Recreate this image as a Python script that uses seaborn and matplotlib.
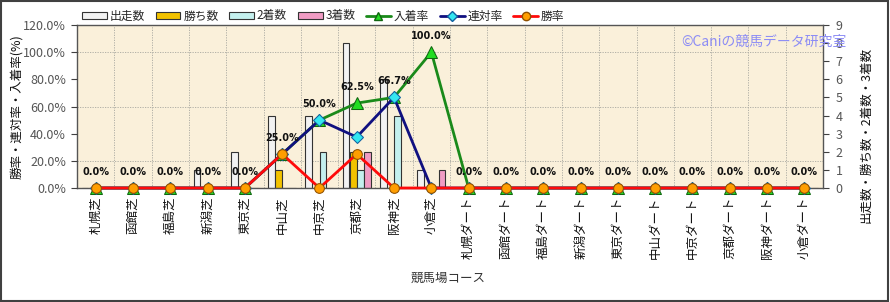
import numpy as np
import pandas as pd
import matplotlib
matplotlib.use("Agg")
import matplotlib.pyplot as plt
from matplotlib.patches import Patch, Rectangle
from matplotlib.lines import Line2D
import seaborn as sns

# ---------------- data ----------------
courses = ["札幌芝", "函館芝", "福島芝", "新潟芝", "東京芝", "中山芝", "中京芝", "京都芝", "阪神芝", "小倉芝",
           "札幌ダート", "函館ダート", "福島ダート", "新潟ダート", "東京ダート", "中山ダート", "中京ダート",
           "京都ダート", "阪神ダート", "小倉ダート"]
starts = [0, 0, 0, 1, 2, 4, 4, 8, 6, 1, 0, 0, 0, 0, 0, 0, 0, 0, 0, 0]
wins   = [0, 0, 0, 0, 0, 1, 0, 2, 0, 0, 0, 0, 0, 0, 0, 0, 0, 0, 0, 0]
second = [0, 0, 0, 0, 0, 0, 2, 1, 4, 0, 0, 0, 0, 0, 0, 0, 0, 0, 0, 0]
third  = [0, 0, 0, 0, 0, 0, 0, 2, 0, 1, 0, 0, 0, 0, 0, 0, 0, 0, 0, 0]
place_rate  = [0, 0, 0, 0, 0, 25.0, 50.0, 62.5, 66.7, 100.0, 0, 0, 0, 0, 0, 0, 0, 0, 0, 0]
rentai_rate = [0, 0, 0, 0, 0, 25.0, 50.0, 37.5, 66.7, 0, 0, 0, 0, 0, 0, 0, 0, 0, 0, 0]
win_rate    = [0, 0, 0, 0, 0, 25.0, 0, 25.0, 0, 0, 0, 0, 0, 0, 0, 0, 0, 0, 0, 0]
bar_names = ["出走数", "勝ち数", "2着数", "3着数"]
line_names = ["入着率", "連対率", "勝率"]
left_ticks = [0, 20, 40, 60, 80, 100, 120]
right_ticks = [0, 1, 2, 3, 4, 5, 6, 7, 8, 9]

# ---------------- style ----------------
sns.set_style("white")
plt.rcParams["font.family"] = ["Noto Sans CJK JP", "DejaVu Sans"]

bar_colors = ["#F2F2F2", "#F2C200", "#C4F0EE", "#F09CC4"]

fig = plt.figure(figsize=(8.9, 3.02), dpi=100)
ax = fig.add_axes([77 / 890, 1 - 188 / 302, (823 - 77) / 890, (188 - 25) / 302])
ax.set_facecolor("#FAF0DA")

df = pd.DataFrame({
    "course": courses * 4,
    "count": starts + wins + second + third,
    "kind": sum([[n] * len(courses) for n in bar_names], []),
})
sns.barplot(data=df, x="course", y="count", hue="kind", order=courses, hue_order=bar_names,
            palette=bar_colors, width=0.76, gap=0.06, edgecolor="#333333", linewidth=0.8,
            ax=ax, legend=False, errorbar=None, saturation=1)

# ---------------- lines (twin axis) ----------------
ax2 = ax.twinx()
pos = list(range(len(courses)))
pl = [v / 100 for v in place_rate]
rr = [v / 100 for v in rentai_rate]
wr = [v / 100 for v in win_rate]
sns.lineplot(x=pos, y=pl, ax=ax2, color="#1A8A1A", linewidth=2, marker="^", markersize=8,
             markerfacecolor="#22DD22", markeredgecolor="#116611", clip_on=False, zorder=3)
sns.lineplot(x=pos, y=rr, ax=ax2, color="#101080", linewidth=2, marker="D", markersize=6,
             markerfacecolor="#33E6F0", markeredgecolor="#1060A0", clip_on=False, zorder=4)
sns.lineplot(x=pos, y=wr, ax=ax2, color="#FF0A0A", linewidth=2, marker="o", markersize=7,
             markerfacecolor="#FF9E00", markeredgecolor="#905000", clip_on=False, zorder=5)
for i, v in enumerate(place_rate):
    ax2.annotate(f"{v:.1f}%", xy=(i, v / 100), xytext=(0, 11.5), textcoords="offset points",
                 ha="center", va="center", fontsize=7, fontweight="bold", color="#111111",
                 family=["DejaVu Sans"], zorder=6, annotation_clip=False)

# ---------------- primary axis (counts, right side) ----------------
ax.set_ylim(0, 9)
ax.set_xlim(-0.5, len(courses) - 0.5)
ax.yaxis.tick_right()
ax.yaxis.set_label_position("right")
ax.set_yticks(right_ticks)
ax.set_yticks(np.arange(1.5, 9, 1.5), minor=True)
ax.set_xticks(np.arange(0.5, len(courses) - 0.5, 1), minor=True)
ax.set_axisbelow(True)
ax.grid(which="minor", axis="both", color="#A8A8A0", linestyle=(0, (1.5, 1.5)), linewidth=0.6)
ax.grid(which="major", visible=False)
ax.tick_params(axis="y", which="major", left=False, right=True, labelleft=False, labelright=True,
               length=4, width=0.8, color="#404040", labelsize=9, labelcolor="#555555", pad=5)
ax.tick_params(which="minor", length=0)
ax.tick_params(axis="x", which="major", length=0, pad=6, labelsize=9, labelcolor="#111111")
ax.set_xticks(range(len(courses)))
ax.set_xticklabels(courses, rotation=90, va="top", ha="center")
ax.set_xlabel("")
ax.set_ylabel("")
for s in ax.spines.values():
    s.set_color("#555555")
    s.set_linewidth(1.0)

# ---------------- secondary axis (rates, left side) ----------------
ax2.set_ylim(0, 1.2)
ax2.set_xlim(-0.5, len(courses) - 0.5)
ax2.yaxis.tick_left()
ax2.set_yticks([t / 100 for t in left_ticks])
ax2.set_yticklabels([f"{t:.1f}%" for t in left_ticks])
ax2.tick_params(axis="y", left=True, right=False, labelleft=True, labelright=False,
                length=4, width=0.8, color="#404040", labelsize=9, labelcolor="#555555", pad=4)
ax2.set_xlabel("")
ax2.set_ylabel("")
for s in ax2.spines.values():
    s.set_visible(False)

# ---------------- texts ----------------
fig.text(17 / 890, 1 - 107 / 302, "勝率・連対率・入着率(%)", rotation=90, ha="center", va="center",
         fontsize=9, color="#111111")
fig.text(866 / 890, 1 - 135 / 302, "出走数・勝ち数・2着数・3着数", rotation=90, ha="center", va="center",
         fontsize=9, color="#111111")
fig.text(448 / 890, 1 - 278 / 302, "競馬場コース", ha="center", va="center", fontsize=9, color="#333333")
fig.text(846 / 890, 1 - 42 / 302, "©Caniの競馬データ研究室", ha="right", va="center", fontsize=10,
         color="#8C8CF5", zorder=10)

# ---------------- legend ----------------
handles = [Patch(facecolor=c, edgecolor="#333333", linewidth=0.8) for c in bar_colors]
handles += [
    Line2D([], [], color="#1A8A1A", linewidth=2, marker="^", markersize=6,
           markerfacecolor="#22DD22", markeredgecolor="#116611"),
    Line2D([], [], color="#101080", linewidth=2, marker="D", markersize=5,
           markerfacecolor="#33E6F0", markeredgecolor="#1060A0"),
    Line2D([], [], color="#FF0A0A", linewidth=2, marker="o", markersize=6,
           markerfacecolor="#FF9E00", markeredgecolor="#905000"),
]
fig.legend(handles, bar_names + line_names, loc="center left", bbox_to_anchor=(82 / 890, 1 - 16 / 302),
           ncol=7, frameon=False, fontsize=8.5, handlelength=2.1, handleheight=0.55, handletextpad=0.25,
           columnspacing=0.9, borderaxespad=0, borderpad=0)

fig.patches.append(Rectangle((0.001, 0.002), 0.997, 0.995, transform=fig.transFigure, fill=False,
                             edgecolor="#404040", linewidth=1.5))

fig.savefig("out.png", dpi=100)
